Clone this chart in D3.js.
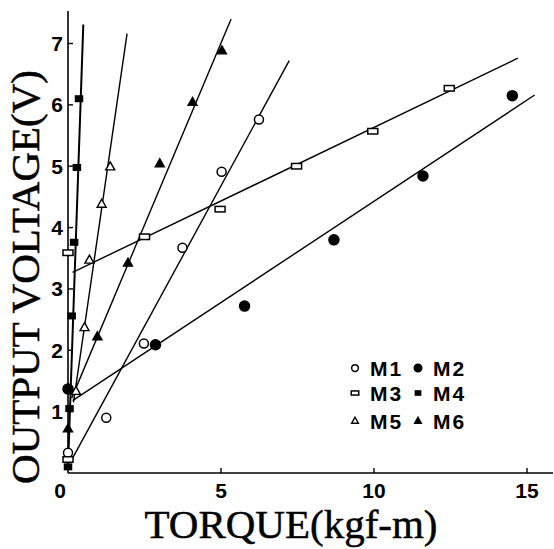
<!DOCTYPE html>
<html>
<head>
<meta charset="utf-8">
<title>Output voltage vs torque</title>
<script src="https://d3js.org/d3.v7.min.js"></script>
<style>
  body { margin: 0; background: #fff; }
</style>
</head>
<body>
<div id="chart"></div>
<script>
// values
let xTicks = [0, 5, 10, 15];
let yTicks = [1, 2, 3, 4, 5, 6, 7];

let m1X = [0, 1.25, 2.48, 3.74, 5.02, 6.24];
let m1Y = [0.33, 0.9, 2.11, 3.67, 4.91, 5.76];
let m2X = [0, 2.86, 5.77, 8.69, 11.6, 14.52];
let m2Y = [1.37, 2.09, 2.72, 3.8, 4.84, 6.15];
let m3X = [0, 0, 2.5, 4.97, 7.47, 9.96, 12.46];
let m3Y = [0.22, 3.59, 3.85, 4.3, 5.0, 5.57, 6.27];
let m4X = [0, 0.05, 0.12, 0.2, 0.29, 0.36];
let m4Y = [0.1, 1.05, 2.56, 3.76, 4.98, 6.1];
let m5X = [0.26, 0.54, 0.7, 1.1, 1.38];
let m5Y = [1.33, 2.37, 3.47, 4.38, 4.99];
let m6X = [0, 0.96, 1.96, 3.0, 4.07, 5.03];
let m6Y = [0.72, 2.22, 3.42, 5.04, 6.04, 6.88];

// fitted lines: [x start, y start, x end, y end]
let fitM1 = [0.07, 0.17, 7.23, 6.72];
let fitM2 = [0.15, 1.18, 15.25, 6.16];
let fitM3 = [0.15, 3.27, 14.7, 6.76];
let fitM4 = [0, 0.1, 0.5, 7.31];
let fitM5 = [0.18, 1.15, 1.93, 7.16];
let fitM6 = [0.12, 1.22, 5.33, 7.4];

let names = ["M1", "M2", "M3", "M4", "M5", "M6"];
let shapes = ["circle", "circle", "square", "square", "triangle", "triangle"];
let filled = [false, true, false, true, false, true];

let series = [
  {xs: m1X, ys: m1Y, fit: fitM1},
  {xs: m2X, ys: m2Y, fit: fitM2},
  {xs: m3X, ys: m3Y, fit: fitM3},
  {xs: m4X, ys: m4Y, fit: fitM4},
  {xs: m5X, ys: m5Y, fit: fitM5},
  {xs: m6X, ys: m6Y, fit: fitM6}
];

let W = 554, H = 549;
let svg = d3.select("#chart").append("svg")
    .attr("width", W).attr("height", H);

let x = d3.scaleLinear().domain([0, 15]).range([68, 527]);
let y = d3.scaleLinear().domain([0, 7]).range([473, 43.5]);

// axes
let g = svg.append("g");
g.append("line")
  .attr("x1", x(0)).attr("x2", 553)
  .attr("y1", y(0)).attr("y2", y(0))
  .attr("stroke", "#000").attr("stroke-width", 1.6);
g.append("line")
  .attr("x1", x(0)).attr("x2", x(0))
  .attr("y1", y(0)).attr("y2", 11)
  .attr("stroke", "#000").attr("stroke-width", 1.6);

g.selectAll(".xt").data(xTicks.filter(d => d > 0)).enter().append("line")
  .attr("x1", d => x(d)).attr("x2", d => x(d))
  .attr("y1", y(0)).attr("y2", y(0) - 5)
  .attr("stroke", "#000").attr("stroke-width", 1.4);
g.selectAll(".yt").data(yTicks).enter().append("line")
  .attr("x1", x(0)).attr("x2", x(0) + 5)
  .attr("y1", d => y(d)).attr("y2", d => y(d))
  .attr("stroke", "#000").attr("stroke-width", 1.4);

g.selectAll(".xl").data(xTicks).enter().append("text")
  .attr("x", d => d === 0 ? x(d) - 8 : x(d))
  .attr("y", 498)
  .attr("text-anchor", "middle")
  .attr("font-family", "Liberation Sans, Arial, sans-serif")
  .attr("font-weight", "bold")
  .attr("font-size", "21px")
  .text(d => d);
g.selectAll(".yl").data(yTicks).enter().append("text")
  .attr("x", 63)
  .attr("y", d => y(d) + 7.5)
  .attr("text-anchor", "end")
  .attr("font-family", "Liberation Sans, Arial, sans-serif")
  .attr("font-weight", "bold")
  .attr("font-size", "21px")
  .text(d => d);

svg.append("text")
  .attr("x", 291).attr("y", 538)
  .attr("text-anchor", "middle")
  .attr("font-family", "Liberation Serif, Times New Roman, serif")
  .attr("font-size", "41px")
  .attr("stroke", "#000").attr("stroke-width", 0.5)
  .text("TORQUE(kgf-m)");
svg.append("text")
  .attr("transform", "translate(39,277) rotate(-90)")
  .attr("text-anchor", "middle")
  .attr("font-family", "Liberation Serif, Times New Roman, serif")
  .attr("font-size", "41px")
  .attr("stroke", "#000").attr("stroke-width", 0.5)
  .text("OUTPUT VOLTAGE(V)");

// fitted lines
svg.selectAll(".fit").data(series).enter().append("line")
  .attr("x1", d => x(d.fit[0])).attr("y1", d => y(d.fit[1]))
  .attr("x2", d => x(d.fit[2])).attr("y2", d => y(d.fit[3]))
  .attr("stroke", "#000")
  .attr("stroke-width", (d, i) => i === 3 ? 2 : 1.4);

// markers
function drawMarker(sel, shape, fill, cx, cy, s) {
  let fc = fill ? "#000" : "#fff";
  if (shape === "circle") {
    sel.append("circle").attr("cx", cx).attr("cy", cy)
      .attr("r", fill ? 5 * s : 4.5 * s)
      .attr("fill", fc).attr("stroke", "#000").attr("stroke-width", 1.5);
  } else if (shape === "square") {
    let w = fill ? 7 * s : 10 * s, h = 5.5 * s;
    sel.append("rect").attr("x", cx - w / 2).attr("y", cy - h / 2)
      .attr("width", w).attr("height", h)
      .attr("fill", fc).attr("stroke", "#000").attr("stroke-width", 1.5);
  } else {
    let r = 5 * s;
    sel.append("path")
      .attr("d", "M" + cx + "," + (cy - r) + "L" + (cx + r * 0.9) + "," + (cy + r * 0.6) +
                 "L" + (cx - r * 0.9) + "," + (cy + r * 0.6) + "Z")
      .attr("fill", fc).attr("stroke", "#000").attr("stroke-width", 1.4);
  }
}

let pts = svg.append("g");
series.forEach((s, i) => {
  s.xs.forEach((xv, j) => {
    drawMarker(pts, shapes[i], filled[i], x(xv), y(s.ys[j]), 1);
  });
});

// legend
let leg = svg.append("g");
names.forEach((n, i) => {
  let col = i % 2, row = Math.floor(i / 2);
  let lx = 355 + col * 63, ly = [368, 393, 421][row];
  drawMarker(leg, shapes[i], filled[i], lx, ly, 0.75);
  leg.append("text")
    .attr("x", lx + 15).attr("y", ly + 7.5)
    .attr("font-family", "Liberation Sans, Arial, sans-serif")
    .attr("font-weight", "bold")
    .attr("font-size", "21px")
    .attr("letter-spacing", "2px")
    .text(n);
});
</script>
</body>
</html>
